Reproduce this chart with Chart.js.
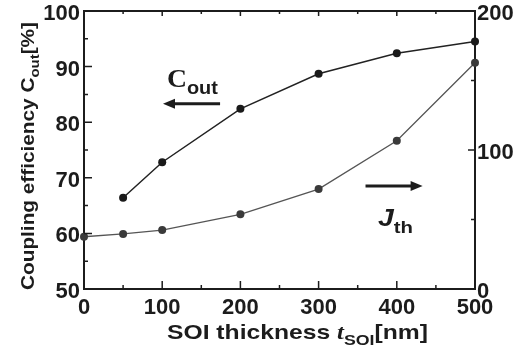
<!DOCTYPE html>
<html>
<head>
    <title>Coupling efficiency and threshold vs SOI thickness</title>
    <script src="https://cdn.jsdelivr.net/npm/chart.js"></script>
    <style>
        body { margin: 0; background: #fff; }
    </style>
</head>
<body>
    <canvas id="soiChart" width="522" height="349"></canvas>

    <script>
        // values
        const coutThickness = [50, 100, 200, 300, 400, 500];
        const coutValues = [66.4, 72.8, 82.4, 88.7, 92.4, 94.5];   // %
        const jthThickness = [0, 50, 100, 200, 300, 400, 500];
        const jthValues = [37.6, 39.6, 42.4, 53.7, 71.9, 106.7, 162.8];

        const FONT = "'Liberation Sans Narrow', 'Liberation Sans', Arial, sans-serif";
        const INK = '#1c1c1c';

        // draw a run of text pieces (normal / italic / subscript), squeezed to a width
        function richText(ctx, parts, size, targetWidth) {
            const pieces = parts.map(p => {
                const s = p.sub ? size * 0.72 : size;
                const face = (p.italic ? 'italic ' : '') + 'bold ' + s + 'px ' + (p.serif ? "'Liberation Serif', serif" : FONT);
                ctx.font = face;
                return { text: p.t, face: face, w: ctx.measureText(p.t).width, dy: p.sub ? size * 0.28 : 0 };
            });
            const total = pieces.reduce((a, p) => a + p.w, 0);
            const k = targetWidth ? targetWidth / total : 1;
            ctx.save();
            ctx.scale(k, 1);
            let x = 0;
            pieces.forEach(p => {
                ctx.font = p.face;
                ctx.fillText(p.text, x, p.dy);
                x += p.w;
            });
            ctx.restore();
        }

        function arrow(ctx, x1, y, x2) {
            const dir = Math.sign(x2 - x1);
            ctx.save();
            ctx.strokeStyle = INK;
            ctx.fillStyle = INK;
            ctx.lineWidth = 3;
            ctx.beginPath();
            ctx.moveTo(x1, y);
            ctx.lineTo(x2 - dir * 8, y);
            ctx.stroke();
            ctx.beginPath();
            ctx.moveTo(x2, y);
            ctx.lineTo(x2 - dir * 12, y - 5);
            ctx.lineTo(x2 - dir * 12, y + 5);
            ctx.closePath();
            ctx.fill();
            ctx.restore();
        }

        const framePlugin = {
            id: 'frame',
            afterDraw(chart) {
                const ctx = chart.ctx;
                const { left, right, top, bottom } = chart.chartArea;
                const sx = chart.scales.x, sy = chart.scales.y, sy2 = chart.scales.y2;

                ctx.save();
                ctx.strokeStyle = INK;
                ctx.lineWidth = 2;
                ctx.beginPath();
                ctx.moveTo(left, top);
                ctx.lineTo(right, top);
                ctx.stroke();

                ctx.lineWidth = 1.5;
                ctx.beginPath();
                // x ticks, every 50 nm, bottom and top
                for (let v = sx.min; v <= sx.max; v += 50) {
                    const px = sx.getPixelForValue(v);
                    const major = v % 100 === 0;
                    ctx.moveTo(px, bottom);
                    ctx.lineTo(px, bottom - (major ? 8 : 4));
                    ctx.moveTo(px, top);
                    ctx.lineTo(px, top + (major ? 5 : 3));
                }
                // left ticks, every 5 %
                for (let v = sy.min; v <= sy.max; v += 5) {
                    const py = sy.getPixelForValue(v);
                    ctx.moveTo(left, py);
                    ctx.lineTo(left + (v % 10 === 0 ? 8 : 4), py);
                }
                // right ticks, every 50
                for (let v = sy2.min; v <= sy2.max; v += 50) {
                    const py = sy2.getPixelForValue(v);
                    ctx.moveTo(right, py);
                    ctx.lineTo(right - (v % 100 === 0 ? 7 : 4), py);
                }
                ctx.stroke();

                ctx.fillStyle = INK;
                ctx.textBaseline = 'alphabetic';

                // x axis title
                ctx.save();
                ctx.translate(167, 339);
                richText(ctx, [
                    { t: 'SOI thickness ' },
                    { t: 't', italic: true, serif: true },
                    { t: 'SOI', sub: true },
                    { t: '[nm]' }
                ], 21, 261);
                ctx.restore();

                // y axis title
                ctx.save();
                ctx.translate(34, 290);
                ctx.rotate(-Math.PI / 2);
                richText(ctx, [
                    { t: 'Coupling efficiency C' },
                    { t: 'out', sub: true },
                    { t: '[%]' }
                ], 19, 268);
                ctx.restore();

                // series labels and arrows, placed in data units
                ctx.save();
                ctx.translate(sx.getPixelForValue(106), sy.getPixelForValue(86.3));
                richText(ctx, [
                    { t: 'C', serif: true },
                    { t: 'out', sub: true }
                ], 25, 51);
                ctx.restore();
                arrow(ctx, sx.getPixelForValue(174), sy.getPixelForValue(83.3), sx.getPixelForValue(101));

                arrow(ctx, sx.getPixelForValue(360), sy2.getPixelForValue(74.1), sx.getPixelForValue(433));
                ctx.save();
                ctx.translate(sx.getPixelForValue(376), sy2.getPixelForValue(45));
                richText(ctx, [
                    { t: 'J', italic: true },
                    { t: 'th', sub: true }
                ], 24, 35);
                ctx.restore();

                ctx.restore();
            }
        };

        const tickFont = { family: FONT, size: 22, weight: 'bold' };

        const ctx = document.getElementById('soiChart').getContext('2d');
        const chart = new Chart(ctx, {
            type: 'line',
            data: {
                datasets: [
                    {
                        label: 'Cout',
                        data: coutThickness.map((t, i) => ({ x: t, y: coutValues[i] })),
                        yAxisID: 'y',
                        borderColor: '#222',
                        backgroundColor: '#1a1a1a',
                        borderWidth: 1.5,
                        pointRadius: 4,
                        pointBorderWidth: 0,
                        tension: 0
                    },
                    {
                        label: 'Jth',
                        data: jthThickness.map((t, i) => ({ x: t, y: jthValues[i] })),
                        yAxisID: 'y2',
                        borderColor: '#555',
                        backgroundColor: '#3a3a3a',
                        borderWidth: 1.3,
                        pointRadius: 4,
                        pointBorderWidth: 0,
                        tension: 0
                    }
                ]
            },
            options: {
                responsive: false,
                animation: false,
                clip: false,
                layout: { padding: { top: 11, left: 0, right: 0, bottom: 0 } },
                plugins: {
                    legend: { display: false },
                    tooltip: { enabled: false }
                },
                scales: {
                    x: {
                        type: 'linear',
                        min: 0,
                        max: 500,
                        grid: { drawOnChartArea: false, drawTicks: false },
                        border: { display: true, color: INK, width: 2 },
                        ticks: { stepSize: 100, color: INK, font: tickFont, padding: 6, maxRotation: 0 },
                        afterFit(scale) { scale.height = 60; scale.paddingLeft = 0; scale.paddingRight = 0; }
                    },
                    y: {
                        position: 'left',
                        min: 50,
                        max: 100,
                        grid: { drawOnChartArea: false, drawTicks: false },
                        border: { display: true, color: INK, width: 2 },
                        ticks: { stepSize: 10, color: INK, font: tickFont, padding: 4, labelOffset: 3 },
                        afterFit(scale) { scale.width = 84; scale.paddingTop = 0; scale.paddingBottom = 0; }
                    },
                    y2: {
                        position: 'right',
                        min: 0,
                        max: 200,
                        grid: { drawOnChartArea: false, drawTicks: false },
                        border: { display: true, color: INK, width: 2 },
                        ticks: { stepSize: 100, color: INK, font: tickFont, padding: 2, labelOffset: 3 },
                        afterFit(scale) { scale.width = 47; scale.paddingTop = 0; scale.paddingBottom = 0; }
                    }
                }
            },
            plugins: [framePlugin]
        });
    </script>
</body>
</html>
